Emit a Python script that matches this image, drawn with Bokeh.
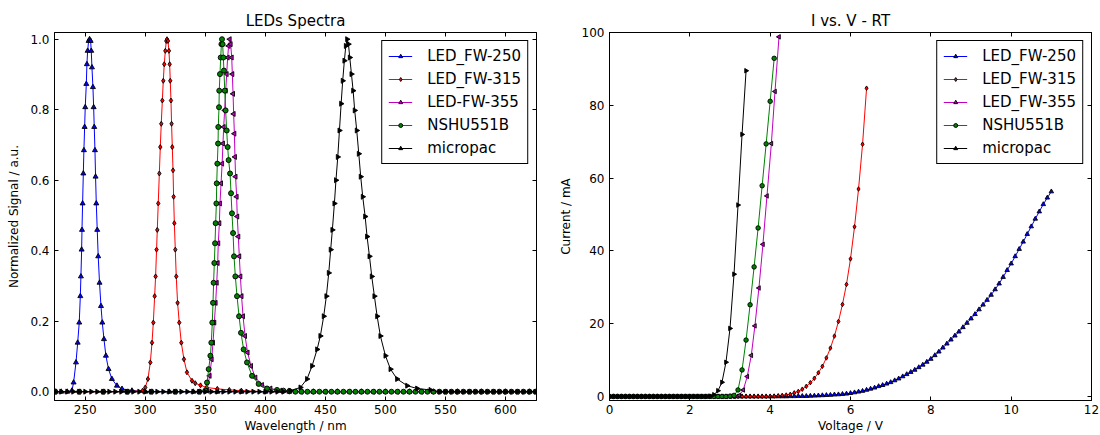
import math
from bokeh.plotting import figure
from bokeh.models import (Range1d, FixedTicker, LinearAxis, Legend, LegendItem,
                          PrintfTickFormatter)
from bokeh.layouts import row
from bokeh.embed import file_html
from bokeh.resources import INLINE

FONT = "DejaVu Sans"

# ---------------- Spectra (left panel) ----------------
series_names_left = ["LED_FW-250", "LED_FW-315", "LED-FW-355", "NSHU551B", "micropac"]
series_names_right = ["LED_FW-250", "LED_FW-315", "LED_FW-355", "NSHU551B", "micropac"]

blue_wl = [225, 230, 235,
           238.9, 240.3, 242.3, 243.7, 245.0, 245.9, 246.4, 247.0, 247.3, 247.8,
           248.4, 248.9, 249.5, 250.0, 250.9, 251.4, 252.0, 252.8, 253.6,
           254.5, 255.0, 255.6, 256.4, 257.0, 257.5, 258.1, 258.6, 259.2, 260.0,
           260.8, 261.9, 263.1, 264.2, 265.6, 267.2, 269.4, 272.2, 276.4, 280.6,
           288.9,
           300, 320, 340, 360, 380, 400, 420, 440, 460, 480, 500, 520, 540, 560, 580, 600, 620]
blue_sig = [0.0, 0.0, 0.0,
            0.003, 0.026, 0.083, 0.139, 0.196, 0.271, 0.327, 0.403, 0.459, 0.534,
            0.619, 0.685, 0.751, 0.807, 0.873, 0.929, 0.967, 0.995, 1.0,
            0.995, 0.967, 0.92, 0.864, 0.807, 0.751, 0.685, 0.61, 0.534, 0.459,
            0.384, 0.309, 0.243, 0.196, 0.149, 0.102, 0.064, 0.036, 0.017, 0.008,
            0.003,
            0.0, 0.0, 0.0, 0.0, 0.0, 0.0, 0.0, 0.0, 0.0, 0.0, 0.0, 0.0, 0.0, 0.0, 0.0, 0.0, 0.0]

red_wl = [225, 245, 265, 285,
          297.8, 300.0, 302.2, 304.2, 305.6, 306.7, 307.8, 308.6, 309.4, 310.0,
          310.8, 311.7, 312.5, 313.3, 314.2, 315.0, 315.8, 316.7, 317.5, 318.1,
          318.9, 319.7, 320.3, 320.8, 321.4, 321.9, 322.5, 323.1, 323.6, 324.2,
          325.0, 325.8, 326.9, 328.3, 330.0, 332.2, 334.7, 338.9, 341.6,
          346, 351, 360, 370, 380,
          400, 420, 440, 460, 480, 500, 520, 540, 560, 580, 600, 620]
red_sig = [0.0, 0.0, 0.0, 0.0,
           0.003, 0.012, 0.036, 0.083, 0.139, 0.196, 0.271, 0.327, 0.403, 0.459,
           0.534, 0.619, 0.694, 0.76, 0.826, 0.882, 0.929, 0.967, 0.995, 1.0,
           0.995, 0.967, 0.929, 0.882, 0.826, 0.76, 0.694, 0.628, 0.553, 0.478,
           0.403, 0.327, 0.252, 0.196, 0.139, 0.092, 0.055, 0.031, 0.024,
           0.018, 0.012, 0.008, 0.005, 0.003,
           0.0, 0.0, 0.0, 0.0, 0.0, 0.0, 0.0, 0.0, 0.0, 0.0, 0.0, 0.0]

mag_wl = [225, 245, 265, 285, 305, 325, 345,
          351.4, 353.6, 355.3, 356.4, 357.5, 358.6, 359.5, 360.3, 360.8, 361.7,
          362.2, 363.1, 364.0, 364.7, 365.3, 366.1, 367.0, 367.8, 368.6, 369.4,
          370.3, 371.1, 372.0, 372.5, 373.1, 373.6, 374.2, 374.7, 375.2, 376.1,
          376.6, 377.5, 378.3, 379.2, 380.2, 381.4, 383.1, 385.2, 388.1, 391.7,
          397.2, 404.2, 412.5,
          430, 450, 470, 490, 510, 530, 550, 570, 590, 610, 625]
mag_sig = [0.0, 0.0, 0.0, 0.0, 0.0, 0.0, 0.0,
           0.003, 0.045, 0.092, 0.139, 0.196, 0.252, 0.309, 0.365, 0.421, 0.478,
           0.534, 0.591, 0.647, 0.704, 0.751, 0.798, 0.854, 0.901, 0.948, 0.981,
           1.0, 0.986, 0.948, 0.901, 0.845, 0.788, 0.732, 0.666, 0.61, 0.553,
           0.497, 0.44, 0.384, 0.327, 0.271, 0.214, 0.158, 0.111, 0.073, 0.04,
           0.019, 0.009, 0.003,
           0.0, 0.0, 0.0, 0.0, 0.0, 0.0, 0.0, 0.0, 0.0, 0.0, 0.0]

grn_wl = [225, 245, 265, 285, 305, 325, 345,
          350.0, 351.4, 352.8, 354.2, 355.0, 355.8, 356.4, 356.9, 357.5, 358.1,
          358.6, 359.2, 359.5, 360.0, 360.6, 360.8, 361.4, 361.6, 362.2, 362.8,
          363.4, 363.9, 364.4, 365.0, 365.5, 366.2, 366.9, 367.8, 368.6, 369.4,
          370.6, 371.4, 372.2, 373.1, 373.9, 375.0, 376.4, 378.1, 379.7, 381.9,
          384.7, 388.9, 394.4, 401.4, 409.7,
          415, 420, 425, 430, 435, 440, 445, 450, 455, 460, 465, 470, 475, 480,
          485, 490, 495, 500, 505, 510, 515, 520, 525, 530, 535, 540, 545, 550,
          555, 560, 565, 570, 575, 580, 585, 590, 595, 600, 605, 610, 615, 620, 625]
grn_sig = [0.0, 0.0, 0.0, 0.0, 0.0, 0.0, 0.0,
           0.003, 0.026, 0.064, 0.102, 0.139, 0.196, 0.252, 0.309, 0.365, 0.421,
           0.478, 0.534, 0.591, 0.647, 0.704, 0.751, 0.807, 0.854, 0.901, 0.948,
           0.986, 1.0, 0.986, 0.948, 0.911, 0.854, 0.798, 0.741, 0.694, 0.657,
           0.619, 0.563, 0.506, 0.45, 0.384, 0.327, 0.271, 0.214, 0.167, 0.12,
           0.083, 0.045, 0.022, 0.009, 0.005,
           0.003, 0.002, 0.0, 0.0, 0.0, 0.0, 0.0, 0.0, 0.0, 0.0, 0.0, 0.0, 0.0, 0.0,
           0.0, 0.0, 0.0, 0.0, 0.0, 0.0, 0.0, 0.0, 0.0, 0.0, 0.0, 0.0, 0.0, 0.0,
           0.0, 0.0, 0.0, 0.0, 0.0, 0.0, 0.0, 0.0, 0.0, 0.0, 0.0, 0.0, 0.0, 0.0, 0.0]

mic_wl = [225, 230, 235, 240, 245, 250, 255, 260, 265, 270, 275, 280, 285, 290,
          295, 300, 305, 310, 315, 320, 325, 330, 335, 340, 345, 350, 355, 360,
          365, 370, 375, 380, 385, 390, 395, 400, 405, 410, 415,
          420.8, 429.2, 434.7, 438.9, 443.1, 445.8, 448.6, 450.8, 452.8, 454.4,
          455.8, 457.5, 458.8, 460.3, 461.7, 463.1, 464.4, 465.8, 467.0, 468.1,
          469.2, 470.3, 471.7, 473.1, 474.4, 476.1, 477.8, 479.4, 481.1, 483.1,
          484.7, 486.7, 488.6, 490.8, 493.1, 495.8, 500.0, 504.2, 509.7, 518.1,
          526.4, 537.5,
          545, 550, 555, 560, 565, 570, 575, 580, 585, 590, 595, 600, 605, 610,
          615, 620, 625]
mic_sig = [0.0, 0.0, 0.0, 0.0, 0.0, 0.0, 0.0, 0.0, 0.0, 0.0, 0.0, 0.0, 0.0, 0.0,
           0.0, 0.0, 0.0, 0.0, 0.0, 0.0, 0.0, 0.0, 0.0, 0.0, 0.0, 0.0, 0.0, 0.0,
           0.0, 0.0, 0.0, 0.0, 0.0, 0.0, 0.0, 0.0, 0.0, 0.0, 0.0,
           0.003, 0.012, 0.036, 0.073, 0.12, 0.158, 0.214, 0.271, 0.337, 0.403,
           0.459, 0.534, 0.6, 0.666, 0.741, 0.817, 0.882, 0.939, 0.981, 1.0,
           0.986, 0.948, 0.901, 0.854, 0.798, 0.741, 0.675, 0.61, 0.553, 0.497,
           0.44, 0.384, 0.327, 0.271, 0.214, 0.158, 0.102, 0.064, 0.036, 0.017,
           0.009, 0.005,
           0.0, 0.0, 0.0, 0.0, 0.0, 0.0, 0.0, 0.0, 0.0, 0.0, 0.0, 0.0, 0.0, 0.0,
           0.0, 0.0, 0.0]

# ---------------- I-V curves (right panel) ----------------
blue_v = [0.0, 0.1, 0.2, 0.3, 0.4, 0.5, 0.6, 0.7, 0.8, 0.9, 1.0, 1.1, 1.2, 1.3, 1.4,
          1.5, 1.6, 1.7, 1.8, 1.9, 2.0, 2.1, 2.2, 2.3, 2.4, 2.5, 2.6, 2.7, 2.8, 2.9,
          3.0, 3.1, 3.2, 3.3, 3.4, 3.5, 3.6, 3.7, 3.8, 3.9, 4.0, 4.1, 4.2, 4.3, 4.4,
          4.5, 4.6, 4.7, 4.8, 4.9, 5.0, 5.1, 5.2, 5.3, 5.4, 5.5, 5.6, 5.7, 5.8, 5.9,
          6.0, 6.1, 6.2, 6.3, 6.4, 6.5, 6.6, 6.7, 6.8, 6.9, 7.0, 7.1, 7.2, 7.3, 7.4,
          7.5, 7.6, 7.7, 7.8, 7.9, 8.0, 8.1, 8.2, 8.3, 8.4, 8.5, 8.6, 8.7, 8.8, 8.9,
          9.0, 9.1, 9.2, 9.3, 9.4, 9.5, 9.6, 9.7, 9.8, 9.9, 10.0, 10.1, 10.2, 10.3,
          10.4, 10.5, 10.6, 10.7, 10.8, 10.9, 11.0]
blue_i = [0.0, 0.0, 0.0, 0.0, 0.0, 0.0, 0.0, 0.0, 0.0, 0.0, 0.0, 0.0, 0.0, 0.0, 0.0,
          0.0, 0.0, 0.0, 0.0, 0.0, 0.0, 0.0, 0.0, 0.0, 0.0, 0.0, 0.0, 0.0, 0.0, 0.0,
          0.0, 0.0, 0.0, 0.0, 0.0, 0.0, 0.0, 0.0, 0.0, 0.0, 0.0, 0.0, 0.0, 0.0, 0.0,
          0.05, 0.05, 0.1, 0.1, 0.1, 0.15, 0.2, 0.25, 0.3, 0.35,
          0.4, 0.5, 0.55, 0.65, 0.75, 0.9, 1.1, 1.3, 1.5, 1.8,
          2.1, 2.4, 2.8, 3.1, 3.5, 3.9, 4.4, 4.9, 5.5, 6.1,
          6.7, 7.3, 8.0, 8.7, 9.5, 10.3, 11.3, 12.3, 13.4, 14.5,
          15.6, 16.7, 17.8, 19.0, 20.2, 21.4, 22.6, 23.9, 25.2, 26.5,
          27.9, 29.4, 31.0, 32.8, 34.7, 36.5, 38.5, 40.5, 42.5, 44.6,
          46.7, 48.8, 50.8, 52.8, 54.6, 56.3]

red_v = [0.0, 0.1, 0.2, 0.3, 0.4, 0.5, 0.6, 0.7, 0.8, 0.9, 1.0, 1.1, 1.2, 1.3, 1.4,
         1.5, 1.6, 1.7, 1.8, 1.9, 2.0, 2.1, 2.2, 2.3, 2.4, 2.5, 2.6, 2.7, 2.8, 2.9,
         3.0, 3.1, 3.2, 3.3, 3.4, 3.5, 3.6, 3.7, 3.8, 3.9, 4.0, 4.1, 4.2, 4.3, 4.4,
         4.5, 4.6, 4.7, 4.8, 4.9, 5.0, 5.1, 5.2, 5.3, 5.4, 5.5, 5.6, 5.7, 5.8, 5.9,
         6.0, 6.1, 6.2, 6.3, 6.4]
red_i = [0.0, 0.0, 0.0, 0.0, 0.0, 0.0, 0.0, 0.0, 0.0, 0.0, 0.0, 0.0, 0.0, 0.0, 0.0,
         0.0, 0.0, 0.0, 0.0, 0.0, 0.0, 0.0, 0.0, 0.0, 0.0, 0.0, 0.0, 0.0, 0.0, 0.0,
         0.0, 0.0, 0.0, 0.0, 0.0, 0.0, 0.0, 0.0, 0.0, 0.0, 0.0,
         0.1, 0.2, 0.3, 0.4, 0.6, 1.0, 1.4, 2.0, 2.8, 3.8,
         5.0, 6.5, 8.3, 10.6, 13.3, 16.6, 20.6, 25.3, 30.8, 37.8,
         46.6, 57.0, 69.3, 84.7]

mag_v = [0.0, 0.1, 0.2, 0.3, 0.4, 0.5, 0.6, 0.7, 0.8, 0.9, 1.0, 1.1, 1.2, 1.3, 1.4,
         1.5, 1.6, 1.7, 1.8, 1.9, 2.0, 2.1, 2.2, 2.3, 2.4, 2.5, 2.6, 2.7, 2.8, 2.9,
         3.0, 3.1, 3.23, 3.33, 3.43, 3.53, 3.62, 3.72, 3.82, 3.92, 4.03, 4.12, 4.22]
mag_i = [0.0, 0.0, 0.0, 0.0, 0.0, 0.0, 0.0, 0.0, 0.0, 0.0, 0.0, 0.0, 0.0, 0.0, 0.0,
         0.0, 0.0, 0.0, 0.0, 0.0, 0.0, 0.0, 0.0, 0.0, 0.0, 0.0, 0.0, 0.0, 0.0, 0.0,
         0.0, 0.0, 0.3, 1.8, 5.5, 11.3, 19.4, 29.8, 41.8, 55.1, 69.5, 83.8, 98.8]

grn_v = [0.0, 0.1, 0.2, 0.3, 0.4, 0.5, 0.6, 0.7, 0.8, 0.9, 1.0, 1.1, 1.2, 1.3, 1.4,
         1.5, 1.6, 1.7, 1.8, 1.9, 2.0, 2.1, 2.2, 2.3, 2.4, 2.5, 2.6, 2.7, 2.8, 2.9,
         3.0, 3.1, 3.2, 3.3, 3.4, 3.5, 3.6, 3.7, 3.8, 3.9, 4.0, 4.1]
grn_i = [0.0, 0.0, 0.0, 0.0, 0.0, 0.0, 0.0, 0.0, 0.0, 0.0, 0.0, 0.0, 0.0, 0.0, 0.0,
         0.0, 0.0, 0.0, 0.0, 0.0, 0.0, 0.0, 0.0, 0.0, 0.0, 0.0, 0.0, 0.0, 0.0, 0.0,
         0.1, 0.3, 1.8, 7.3, 15.5, 25.2, 35.6, 46.3, 57.9, 69.4, 81.1, 92.9]

mic_v = [0.0, 0.1, 0.2, 0.3, 0.4, 0.5, 0.6, 0.7, 0.8, 0.9, 1.0, 1.1, 1.2, 1.3, 1.4,
         1.5, 1.6, 1.7, 1.8, 1.9, 2.0, 2.1, 2.2, 2.3, 2.4, 2.5, 2.6, 2.7, 2.8, 2.9,
         3.0, 3.1, 3.2, 3.3, 3.4]
mic_i = [0.0, 0.0, 0.0, 0.0, 0.0, 0.0, 0.0, 0.0, 0.0, 0.0, 0.0, 0.0, 0.0, 0.0, 0.0,
         0.0, 0.0, 0.0, 0.0, 0.0, 0.0, 0.0, 0.0, 0.0, 0.0,
         0.1, 0.5, 1.6, 3.9, 9.4, 18.7, 33.6, 52.6, 72.0, 89.5]

wl_ticks = [250, 300, 350, 400, 450, 500, 550, 600]
sig_ticks = [0.0, 0.2, 0.4, 0.6, 0.8, 1.0]
v_ticks = [0, 2, 4, 6, 8, 10, 12]
i_ticks = [0, 20, 40, 60, 80, 100]

# style per series: colour, marker, marker angle
colors = ["#0000ff", "#ff0000", "#bf00bf", "#008000", "#000000"]
markers = ["triangle", "diamond", "triangle", "circle", "triangle"]
angles = [0.0, 0.0, math.pi / 2, 0.0, -math.pi / 2]


def style_axis(ax, label):
    ax.axis_label = label
    ax.axis_label_text_font = FONT
    ax.axis_label_text_font_style = "normal"
    ax.axis_label_text_font_size = "12px"
    ax.axis_label_text_color = "#000000"
    ax.major_label_text_font = FONT
    ax.major_label_text_font_size = "12px"
    ax.major_label_text_color = "#000000"
    ax.major_tick_in = 4
    ax.major_tick_out = 0
    ax.minor_tick_in = 0
    ax.minor_tick_out = 0
    ax.axis_line_color = "#000000"
    ax.major_tick_line_color = "#000000"


def tick_only_axis(ticks):
    # mirrored inward ticks (top / right) without any labels
    return LinearAxis(ticker=FixedTicker(ticks=ticks), major_label_text_font_size="1px",
                      major_label_text_color=None, major_label_text_alpha=0,
                      major_label_standoff=0, major_tick_in=4, major_tick_out=0,
                      minor_tick_in=0, minor_tick_out=0, axis_line_color="#000000",
                      major_tick_line_color="#000000")


def make_fig(width, bl, br, xr, yr, title, xt, yt, xlabel, ylabel, yfmt=None):
    p = figure(width=width, height=435, output_backend="svg", toolbar_location=None,
               x_range=Range1d(*xr), y_range=Range1d(*yr),
               min_border_left=bl, min_border_right=br,
               min_border_top=32, min_border_bottom=33)
    p.title.text = title
    p.title.text_font = FONT
    p.title.text_font_size = "15px"
    p.title.text_font_style = "normal"
    p.title.text_color = "#000000"
    p.title.align = "center"
    p.title.standoff = 5
    p.xgrid.visible = False
    p.ygrid.visible = False
    p.outline_line_color = "#000000"
    p.outline_line_width = 1
    p.outline_line_alpha = 1.0
    p.background_fill_color = "white"
    p.border_fill_color = "white"
    p.xaxis.ticker = FixedTicker(ticks=xt)
    p.yaxis.ticker = FixedTicker(ticks=yt)
    style_axis(p.xaxis[0], xlabel)
    style_axis(p.yaxis[0], ylabel)
    p.xaxis[0].major_label_standoff = 4
    p.xaxis[0].axis_label_standoff = 2
    p.yaxis[0].major_label_standoff = 5
    p.yaxis[0].axis_label_standoff = 6
    if yfmt:
        p.yaxis[0].formatter = PrintfTickFormatter(format=yfmt)
    p.add_layout(tick_only_axis(xt), "above")
    p.add_layout(tick_only_axis(yt), "right")
    return p


def add_series(p, xs, ys, names, msize):
    items = []
    for k, (x, y) in enumerate(zip(xs, ys)):
        assert len(x) == len(y), (names[k], len(x), len(y))
        ln = p.line(x, y, line_color=colors[k], line_width=1)
        sc = p.scatter(x, y, marker=markers[k], angle=angles[k], size=msize,
                       fill_color=colors[k], line_color="#000000", line_width=0.9)
        items.append(LegendItem(label=names[k], renderers=[ln, sc]))
    leg = Legend(items=items, location="top_right", border_line_color="#000000",
                 border_line_width=1, border_line_alpha=1.0, background_fill_alpha=1.0,
                 label_text_font=FONT, label_text_font_size="15px",
                 label_text_color="#000000", glyph_width=24, glyph_height=10,
                 label_height=18, spacing=5, padding=6, margin=8, label_standoff=15)
    p.add_layout(leg)


p1 = make_fig(550, 54, 14, (224.4, 625.8), (-0.025, 1.019), "LEDs Spectra",
              wl_ticks, sig_ticks, "Wavelength / nm", "Normalized Signal / a.u.", "%.1f")
add_series(p1, [blue_wl, red_wl, mag_wl, grn_wl, mic_wl],
           [blue_sig, red_sig, mag_sig, grn_sig, mic_sig], series_names_left, 5)

p2 = make_fig(550, 59, 9, (0, 12), (-1.1, 100), "I vs. V - RT",
              v_ticks, i_ticks, "Voltage / V", "Current / mA")
add_series(p2, [blue_v, red_v, mag_v, grn_v, mic_v],
           [blue_i, red_i, mag_i, grn_i, mic_i], series_names_right, 4.5)

layout = row(p1, p2)
open("out.html", "w").write(file_html(layout, INLINE))
